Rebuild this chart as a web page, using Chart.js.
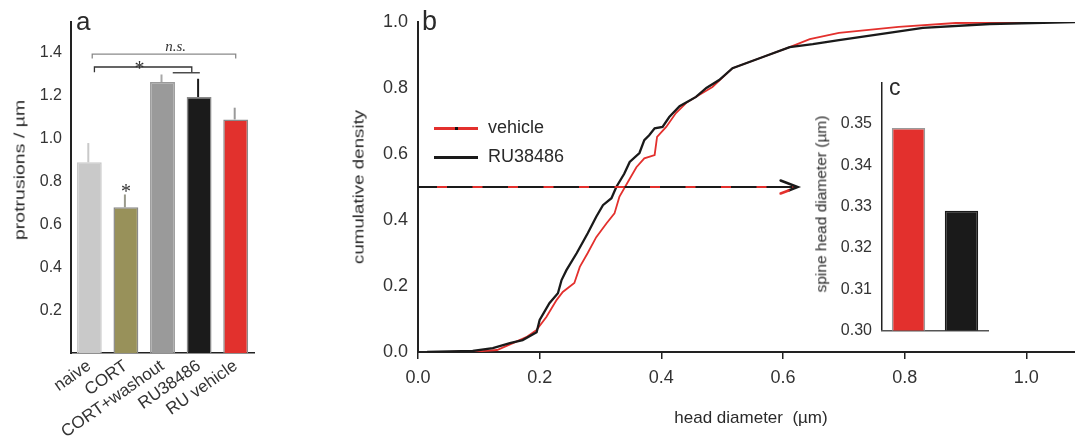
<!DOCTYPE html>
<html>
<head>
<meta charset="utf-8">
<script src="https://cdn.jsdelivr.net/npm/chart.js@4.4.0/dist/chart.umd.min.js"></script>
<style>
  html, body { margin: 0; padding: 0; background: #fff; }
  #wrap { position: relative; width: 1075px; height: 446px; overflow: hidden;
          font-family: "Liberation Sans", Arial, sans-serif; color: #2a2a2a; }
  canvas { position: absolute; }
  .txt { position: absolute; white-space: pre; line-height: 1; }
  .vt { position: absolute; white-space: pre; line-height: 1; }
  .swatch { position: absolute; height: 2px; }
</style>
</head>
<body>
<div id="wrap">
  <canvas id="chart-a" width="260" height="446" style="left:0;top:0"></canvas>
  <canvas id="chart-b" width="735" height="446" style="left:340px;top:0"></canvas>
  <canvas id="chart-c" width="200" height="287" style="left:800px;top:63px"></canvas>

  <!-- panel letters -->
  <div class="txt" style="left:76px;top:8px;font-size:26px">a</div>
  <div class="txt" style="left:422px;top:8px;font-size:27px">b</div>
  <div class="txt" style="left:889px;top:76px;font-size:23px">c</div>

  <!-- axis titles -->
  <div class="vt" style="left:19px;top:170px;font-size:15px;transform:translate(-50%,-50%) rotate(-90deg) scaleX(1.3)">protrusions / µm</div>
  <div class="vt" style="left:358px;top:187px;font-size:15px;transform:translate(-50%,-50%) rotate(-90deg) scaleX(1.25)">cumulative density</div>
  <div class="vt" style="left:821px;top:204px;font-size:15.5px;transform:translate(-50%,-50%) rotate(-90deg)">spine head diameter (µm)</div>
  <div class="txt" style="left:751px;top:417px;font-size:17px;transform:translate(-50%,-50%)">head diameter  (µm)</div>

  <!-- legend for panel b -->
  <div class="swatch" style="left:434px;top:127px;width:44px;height:2.5px;background:#e3302d"></div>
  <div class="swatch" style="left:455px;top:127px;width:3px;height:3px;background:#111"></div>
  <div class="txt" style="left:488px;top:118px;font-size:18px">vehicle</div>
  <div class="swatch" style="left:434px;top:156px;width:44px;height:2.5px;background:#1a1a1a"></div>
  <div class="txt" style="left:488px;top:147px;font-size:18px">RU38486</div>
</div>

<script>
// panel a - protrusion density per group
const groups = ['naive', 'CORT', 'CORT+washout', 'RU38486', 'RU vehicle'];
const protrusions = [0.89, 0.68, 1.265, 1.195, 1.09];
const protrusionErr = [0.09, 0.06, 0.035, 0.085, 0.055];
const barColors = ['#c9c9c9', '#98915a', '#9a9a9a', '#1b1b1b', '#e2312d'];
const errColors = ['#c9c9c9', '#9a9a8c', '#a8a8a8', '#1b1b1b', '#9a9a9a'];
const aTicks = [0.2, 0.4, 0.6, 0.8, 1.0, 1.2, 1.4];

// significance brackets (category index span, height in µm units)
const brackets = [
    { from: 0.08, to: 4.0, y: 1.395, drop: 0.02, color: '#8a8a8a' },
    { from: 0.14, to: 2.8, y: 1.335, drop: 0.025, color: '#333' },
    { from: 2.28, to: 3.02, y: 1.308, drop: 0, color: '#333' }
];
const sigMarks = [
    { at: 2.36, y: 1.43, text: 'n.s.', italic: true },
    { at: 1.37, y: 1.345, text: '*' },
    { at: 1.0, y: 0.77, text: '*' }
];

// panel b - cumulative distributions of head diameter
const ruX = [0.015, 0.09, 0.123, 0.151, 0.172, 0.195, 0.2, 0.216, 0.23, 0.236, 0.244, 0.261, 0.279, 0.293, 0.304, 0.318, 0.326, 0.339, 0.348, 0.364, 0.372, 0.38, 0.389, 0.402, 0.413, 0.43, 0.457, 0.474, 0.495, 0.517, 0.567, 0.611, 0.649, 0.692, 0.774, 0.83, 0.94, 1.01, 1.08];
const ruY = [0, 0.003, 0.012, 0.027, 0.036, 0.06, 0.097, 0.148, 0.178, 0.218, 0.248, 0.3, 0.36, 0.41, 0.445, 0.466, 0.5, 0.54, 0.576, 0.603, 0.642, 0.657, 0.678, 0.682, 0.712, 0.745, 0.773, 0.8, 0.824, 0.86, 0.894, 0.924, 0.933, 0.945, 0.967, 0.982, 0.994, 0.997, 1.0];
const vehX = [0.05, 0.1, 0.13, 0.156, 0.178, 0.195, 0.211, 0.228, 0.238, 0.257, 0.266, 0.279, 0.293, 0.31, 0.323, 0.331, 0.345, 0.359, 0.372, 0.389, 0.393, 0.408, 0.424, 0.441, 0.462, 0.484, 0.517, 0.567, 0.611, 0.644, 0.692, 0.79, 0.884, 1.03, 1.08];
const vehY = [0, 0.002, 0.006, 0.027, 0.045, 0.067, 0.106, 0.158, 0.182, 0.209, 0.258, 0.3, 0.348, 0.39, 0.42, 0.47, 0.515, 0.56, 0.587, 0.597, 0.652, 0.682, 0.724, 0.755, 0.779, 0.803, 0.86, 0.894, 0.924, 0.948, 0.967, 0.985, 0.997, 1.0, 1.0];
const bTicks = [0, 0.2, 0.4, 0.6, 0.8, 1.0];
const medianLevel = 0.5;
const arrowEnd = 0.624;

// panel c - median spine head diameter
const cGroups = ['vehicle', 'RU38486'];
const headDiam = [0.349, 0.329];
const cTicks = [0.30, 0.31, 0.32, 0.33, 0.34, 0.35];

const FONT = '"Liberation Sans", Arial, sans-serif';
Chart.defaults.font.family = FONT;
Chart.defaults.color = '#333';
Chart.defaults.animation = false;
Chart.defaults.plugins.legend.display = false;
Chart.defaults.plugins.tooltip.enabled = false;

function toXY(xs, ys) {
    return xs.map((x, i) => ({ x: x, y: ys[i] }));
}

function fixedTicks(list) {
    return s => { s.ticks = list.map(v => ({ value: v })); };
}

document.addEventListener('DOMContentLoaded', function() {
    initProtrusionChart();
    initCumulativeChart();
    initHeadDiameterChart();
});

function initProtrusionChart() {
    const ctx = document.getElementById('chart-a');

    const extras = {
        id: 'errAndBrackets',
        afterDatasetsDraw(chart) {
            const c = chart.ctx, xs = chart.scales.x, ys = chart.scales.y;
            c.save();
            // error bars
            protrusions.forEach((v, i) => {
                const x = xs.getPixelForValue(i) - 1;
                c.strokeStyle = errColors[i];
                c.lineWidth = 2;
                c.beginPath();
                c.moveTo(x, ys.getPixelForValue(v));
                c.lineTo(x, ys.getPixelForValue(v + protrusionErr[i]));
                c.stroke();
            });
            // brackets
            const step = xs.getPixelForValue(1) - xs.getPixelForValue(0);
            const x0 = xs.getPixelForValue(0);
            brackets.forEach(b => {
                const xa = x0 + b.from * step, xb = x0 + b.to * step;
                const y = ys.getPixelForValue(b.y);
                const yd = ys.getPixelForValue(b.y - b.drop);
                c.strokeStyle = b.color;
                c.lineWidth = 1.3;
                c.beginPath();
                c.moveTo(xa, yd); c.lineTo(xa, y); c.lineTo(xb, y); c.lineTo(xb, yd);
                c.stroke();
            });
            sigMarks.forEach(m => {
                const x = x0 + m.at * step, y = ys.getPixelForValue(m.y);
                c.fillStyle = '#333';
                c.textAlign = 'center';
                if (m.italic) {
                    c.font = 'italic 15px "Liberation Serif", serif';
                    c.textBaseline = 'middle';
                    c.fillText(m.text, x, y);
                } else {
                    c.font = '20px "Liberation Serif", serif';
                    c.textBaseline = 'alphabetic';
                    c.fillText(m.text, x, y + 10);
                }
            });
            c.restore();
        }
    };

    new Chart(ctx.getContext('2d'), {
        type: 'bar',
        data: {
            labels: groups,
            datasets: [{
                data: protrusions,
                backgroundColor: barColors,
                borderColor: ['#c9c9c9', '#8a8a8a', '#9a9a9a', '#8a8a8a', '#8a8a8a'],
                borderWidth: 1.5,
                borderSkipped: 'bottom',
                barPercentage: 0.68,
                categoryPercentage: 1
            }]
        },
        options: {
            responsive: false,
            layout: { padding: { left: 0, right: 6, top: 22, bottom: 0 } },
            scales: {
                y: {
                    min: 0,
                    max: 1.545,
                    afterFit: s => { s.width = 71; },
                    afterBuildTicks: fixedTicks(aTicks),
                    ticks: {
                        font: { size: 16 },
                        padding: 9,
                        color: '#333',
                        callback: v => v.toFixed(1)
                    },
                    grid: { display: false, drawTicks: false },
                    border: { color: '#222', width: 2 }
                },
                x: {
                    afterFit: s => { s.height = 93; },
                    ticks: {
                        font: { size: 17 },
                        color: '#333',
                        minRotation: 35,
                        maxRotation: 35,
                        autoSkip: false,
                        padding: 3
                    },
                    grid: { display: false, drawTicks: false },
                    border: { color: '#222', width: 1.5 }
                }
            }
        },
        plugins: [extras]
    });
}

function initCumulativeChart() {
    const ctx = document.getElementById('chart-b');

    const arrowHead = {
        id: 'arrowHead',
        afterDatasetsDraw(chart) {
            const c = chart.ctx, xs = chart.scales.x, ys = chart.scales.y;
            const tx = xs.getPixelForValue(arrowEnd), ty = ys.getPixelForValue(medianLevel);
            c.save();
            c.lineWidth = 2.5;
            c.lineCap = 'round';
            c.strokeStyle = '#1a1a1a';
            c.beginPath();
            c.moveTo(tx - 17, ty - 6.5); c.lineTo(tx, ty); c.lineTo(tx - 9, ty + 3.5);
            c.stroke();
            c.strokeStyle = '#e3302d';
            c.beginPath();
            c.moveTo(tx - 9, ty + 3.5); c.lineTo(tx - 17, ty + 6.5);
            c.stroke();
            c.restore();
        }
    };

    new Chart(ctx.getContext('2d'), {
        type: 'line',
        data: {
            datasets: [
                {
                    label: 'median dash',
                    data: [{ x: 0, y: medianLevel }, { x: arrowEnd, y: medianLevel }],
                    borderColor: '#e3302d',
                    borderWidth: 2,
                    borderDash: [10, 25.5],
                    borderDashOffset: 16.5,
                    pointRadius: 0,
                    order: 0
                },
                {
                    label: 'median',
                    data: [{ x: 0, y: medianLevel }, { x: arrowEnd, y: medianLevel }],
                    borderColor: '#1a1a1a',
                    borderWidth: 2,
                    pointRadius: 0,
                    order: 1
                },
                {
                    label: 'RU38486',
                    data: toXY(ruX, ruY),
                    borderColor: '#1a1a1a',
                    borderWidth: 2.3,
                    pointRadius: 0,
                    tension: 0,
                    order: 2
                },
                {
                    label: 'vehicle',
                    data: toXY(vehX, vehY),
                    borderColor: '#e3302d',
                    borderWidth: 1.8,
                    pointRadius: 0,
                    tension: 0,
                    order: 3
                }
            ]
        },
        options: {
            responsive: false,
            layout: { padding: { left: 0, right: 0, top: 22, bottom: 0 } },
            scales: {
                x: {
                    type: 'linear',
                    min: 0,
                    max: 1.08,
                    afterFit: s => { s.height = 94; },
                    afterBuildTicks: fixedTicks(bTicks),
                    ticks: {
                        font: { size: 18 },
                        color: '#333',
                        padding: 8,
                        callback: v => v.toFixed(1)
                    },
                    grid: {
                        drawOnChartArea: false,
                        tickLength: 7,
                        lineWidth: 1.5,
                        color: '#222'
                    },
                    border: { color: '#222', width: 2 }
                },
                y: {
                    min: 0,
                    max: 1,
                    afterFit: s => { s.width = 78; },
                    afterBuildTicks: fixedTicks(bTicks),
                    ticks: {
                        font: { size: 18 },
                        color: '#333',
                        padding: 10,
                        callback: v => v.toFixed(1)
                    },
                    grid: { display: false, drawTicks: false },
                    border: { color: '#222', width: 2 }
                }
            }
        },
        plugins: [arrowHead]
    });
}

function initHeadDiameterChart() {
    const ctx = document.getElementById('chart-c');

    new Chart(ctx.getContext('2d'), {
        type: 'bar',
        data: {
            labels: cGroups,
            datasets: [{
                data: headDiam,
                backgroundColor: ['#e3302d', '#1a1a1a'],
                borderColor: ['#9a9a9a', '#1a1a1a'],
                borderWidth: 1.5,
                borderSkipped: 'bottom',
                barPercentage: 0.63,
                categoryPercentage: 1
            }]
        },
        options: {
            responsive: false,
            layout: { padding: { left: 0, right: 12, top: 11, bottom: 0 } },
            scales: {
                y: {
                    min: 0.30,
                    max: 0.36,
                    afterFit: s => { s.width = 82; },
                    afterBuildTicks: fixedTicks(cTicks),
                    ticks: {
                        font: { size: 16 },
                        color: '#333',
                        padding: 10,
                        callback: v => v.toFixed(2)
                    },
                    grid: { display: false, drawTicks: false },
                    border: { color: '#222', width: 1.5 }
                },
                x: {
                    afterFit: s => { s.height = 19; },
                    ticks: { display: false },
                    grid: { display: false, drawTicks: false },
                    border: { color: '#555', width: 1.5 }
                }
            }
        }
    });
}
</script>
</body>
</html>
